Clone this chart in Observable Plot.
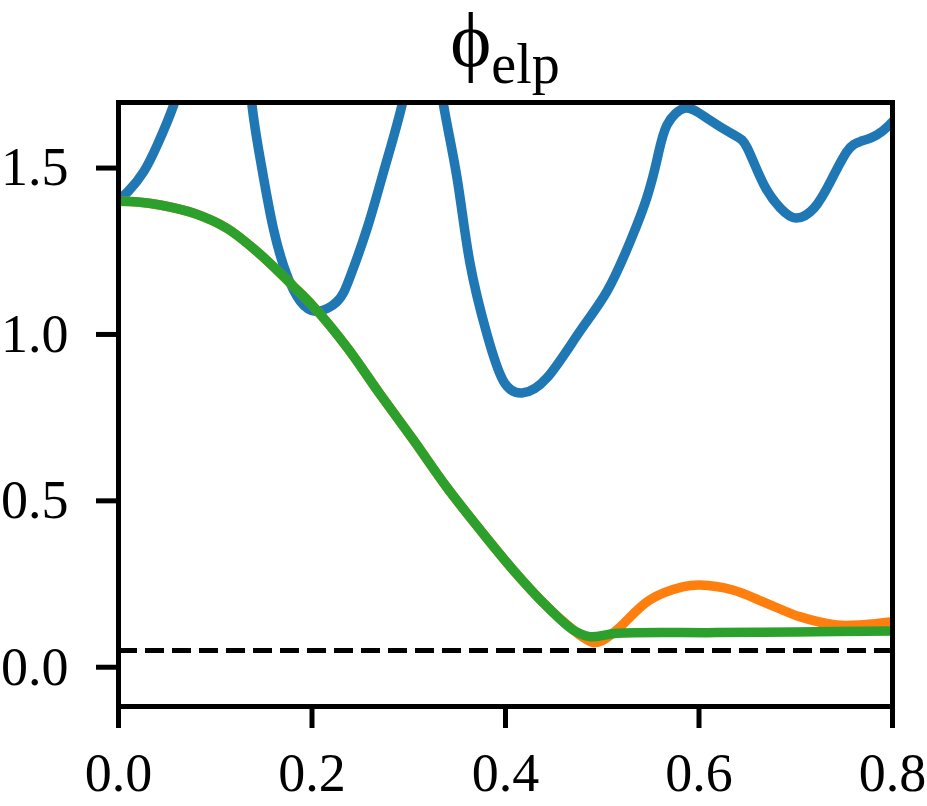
<!DOCTYPE html>
<html>
<head>
<meta charset="utf-8">
<script src="https://cdn.jsdelivr.net/npm/d3@7"></script>
<script src="https://cdn.jsdelivr.net/npm/@observablehq/plot@0.6"></script>
<style>
  html, body { margin: 0; padding: 0; background: #fff; }
</style>
</head>
<body>
<div id="chart"></div>
<script>
// Series 1 (blue)
const blueX = [0.000, 0.010, 0.026, 0.040, 0.057, 0.075, 0.095, 0.115, 0.130, 0.138, 0.147, 0.160, 0.174, 0.188, 0.205, 0.226, 0.239, 0.257, 0.274, 0.293, 0.305, 0.318, 0.328, 0.336, 0.350, 0.363, 0.381, 0.398, 0.417, 0.443, 0.477, 0.505, 0.529, 0.546, 0.557, 0.567, 0.586, 0.608, 0.636, 0.650, 0.667, 0.684, 0.700, 0.719, 0.736, 0.753, 0.767, 0.784, 0.797, 0.800];
const blueY = [1.405, 1.430, 1.489, 1.569, 1.689, 1.850, 2.000, 2.050, 1.900, 1.689, 1.519, 1.319, 1.179, 1.099, 1.069, 1.099, 1.170, 1.319, 1.489, 1.689, 1.850, 1.920, 1.850, 1.689, 1.469, 1.219, 0.999, 0.859, 0.824, 0.870, 1.010, 1.130, 1.280, 1.410, 1.530, 1.630, 1.680, 1.650, 1.600, 1.560, 1.450, 1.380, 1.350, 1.380, 1.460, 1.550, 1.580, 1.600, 1.630, 1.640];

// Series 2 (orange)
const orangeX = [0.000, 0.020, 0.043, 0.078, 0.112, 0.147, 0.181, 0.202, 0.236, 0.270, 0.305, 0.339, 0.374, 0.408, 0.443, 0.470, 0.480, 0.491, 0.500, 0.515, 0.549, 0.584, 0.601, 0.635, 0.670, 0.704, 0.742, 0.770, 0.800];
const orangeY = [1.400, 1.398, 1.389, 1.364, 1.319, 1.239, 1.144, 1.082, 0.962, 0.822, 0.682, 0.542, 0.412, 0.292, 0.182, 0.112, 0.090, 0.074, 0.080, 0.112, 0.202, 0.242, 0.247, 0.232, 0.192, 0.152, 0.127, 0.128, 0.137];

// Series 3 (green)
const greenX = [0.000, 0.020, 0.043, 0.078, 0.112, 0.147, 0.181, 0.202, 0.236, 0.270, 0.305, 0.339, 0.374, 0.408, 0.443, 0.470, 0.487, 0.515, 0.618, 0.700, 0.800];
const greenY = [1.400, 1.398, 1.389, 1.364, 1.319, 1.239, 1.144, 1.082, 0.962, 0.822, 0.682, 0.542, 0.412, 0.292, 0.182, 0.112, 0.092, 0.102, 0.104, 0.106, 0.109];

const threshold = 0.05;
const xTicks = [0.0, 0.2, 0.4, 0.6, 0.8];
const yTicks = [0.0, 0.5, 1.0, 1.5];
const titleMain = "\u03D5";
const titleSub = "elp";

const toRows = (xs, ys) => xs.map((x, i) => ({x, y: ys[i]}));
const blue = toRows(blueX, blueY);
const orange = toRows(orangeX, orangeY);
const green = toRows(greenX, greenY);

const lw = 9.5;
const serif = "'Liberation Serif', 'Times New Roman', serif";
const svg = Plot.plot({
  width: 927,
  height: 806,
  marginLeft: 118,
  marginRight: 35,
  marginTop: 102,
  marginBottom: 100,
  style: {fontFamily: serif, fontSize: "54px", background: "#fff", color: "#000"},
  x: {domain: [0, 0.8]},
  y: {domain: [-0.118, 1.697]},
  marks: [
    Plot.line(blue, {x: "x", y: "y", stroke: "#1f77b4", strokeWidth: lw, curve: "natural", clip: true}),
    Plot.line(orange, {x: "x", y: "y", stroke: "#ff7f0e", strokeWidth: lw, curve: "catmull-rom", clip: true}),
    Plot.line(green, {x: "x", y: "y", stroke: "#2ca02c", strokeWidth: lw, curve: "catmull-rom", clip: true}),
    Plot.ruleY([threshold], {stroke: "#000", strokeWidth: 5, strokeDasharray: "19,8"}),
    Plot.axisX({ticks: xTicks, tickFormat: d3.format(".1f"), tickSize: 22, tickPadding: 24, strokeWidth: 5, label: null}),
    Plot.axisY({ticks: yTicks, tickFormat: d3.format(".1f"), tickSize: 22, tickPadding: 28, strokeWidth: 5, label: null}),
    Plot.frame({stroke: "#000", strokeWidth: 5})
  ]
});

const t = d3.select(svg).append("text")
  .attr("x", 505)
  .attr("y", 66)
  .attr("text-anchor", "middle")
  .attr("fill", "#000")
  .style("font-family", serif);
t.append("tspan").attr("font-size", 78).text(titleMain);
t.append("tspan").attr("font-size", 56).attr("dy", 17).text(titleSub);

document.getElementById("chart").appendChild(svg);
</script>
</body>
</html>
